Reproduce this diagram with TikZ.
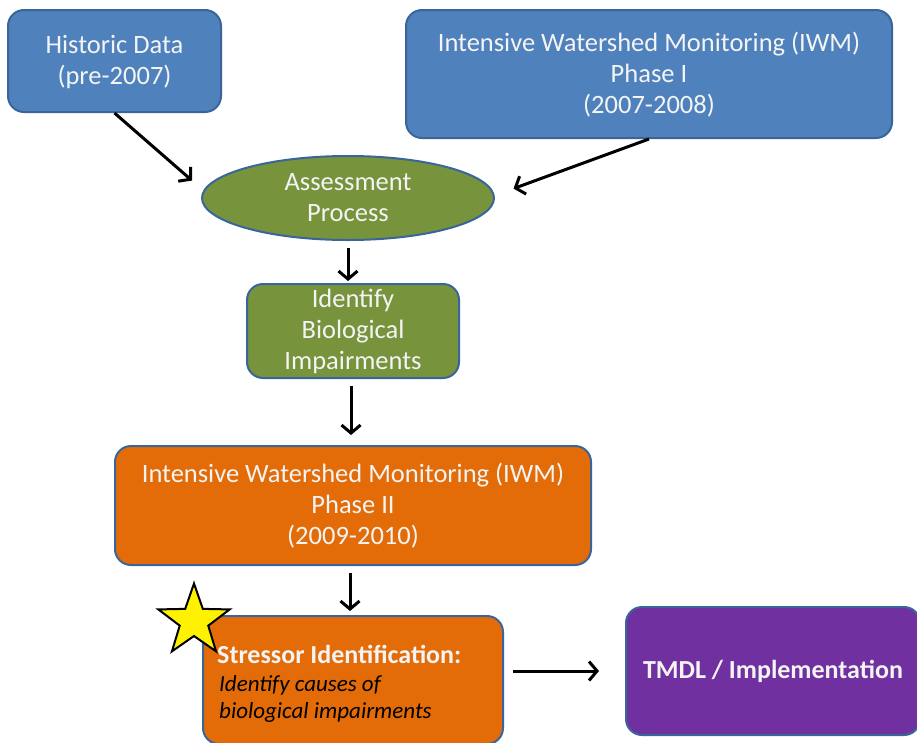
\documentclass[tikz,border=0pt]{standalone}
\usepackage{fontspec}
\setmainfont{Carlito}
\usetikzlibrary{shapes.geometric,arrows.meta}
\definecolor{bfill}{HTML}{4F81BD}
\definecolor{bline}{HTML}{3A659A}
\definecolor{gfill}{HTML}{77933C}
\definecolor{ofill}{HTML}{E36C09}
\definecolor{pfill}{HTML}{7030A0}
\definecolor{txtw}{HTML}{F4F4F4}
\tikzset{
  box/.style={draw=bline, line width=2pt, rounded corners=16pt, inner sep=0pt,
    align=center, text=txtw, font=\fontsize{26.5}{31}\selectfont},
  arr/.style={line width=3pt, -{Straight Barb[length=8pt,width=19pt]}},
  itline/.style={anchor=base west, inner sep=0pt, text=black, font=\fontsize{23}{27}\selectfont\itshape},
}
\begin{document}
\begin{tikzpicture}[x=1pt,y=-1pt]
\useasboundingbox (0,0) rectangle (917,742);
\clip (0,0) rectangle (917,742);
\fill[white] (0,0) rectangle (917,742);
\node[box, fill=bfill, minimum width=213pt, minimum height=102pt, text depth=3pt] (hist) at (114.5,61) {Historic Data\\(pre-2007)};
\node[box, fill=bfill, minimum width=486pt, minimum height=128pt, text depth=3pt] (iwma) at (649,74) {Intensive Watershed Monitoring (IWM)\\Phase I\\(2007-2008)};
\node[ellipse, draw=bline, line width=2pt, fill=gfill, minimum width=292pt, minimum height=84pt, inner sep=0pt, align=center, text=txtw, font=\fontsize{26.5}{31}\selectfont] (assess) at (348,198) {Assessment\\Process};
\node[box, fill=gfill, minimum width=212pt, minimum height=94pt] (ident) at (353,331) {Identify\\Biological\\Impairments};
\node[box, fill=ofill, minimum width=476pt, minimum height=119pt] (iwmb) at (353,505.5) {Intensive Watershed Monitoring (IWM)\\Phase II\\(2009-2010)};
\node[box, fill=ofill, minimum width=300pt, minimum height=128pt] (stress) at (353,680) {};
\node[anchor=base west, inner sep=0pt, text=txtw, font=\fontsize{26}{31}\selectfont\bfseries] (stress1) at (217,663) {Stressor Identification:};
\node[itline] (stress2) at (219,691) {Identify causes of};
\node[itline] (stress3) at (219,718) {biological impairments};
\node[box, fill=pfill, minimum width=294pt, minimum height=128pt, font=\fontsize{26}{31}\selectfont\bfseries] (tmdl) at (773,671) {TMDL / Implementation};
\node[star, star points=5, star point ratio=2.5, minimum size=75pt, inner sep=0pt, draw=black, line width=2pt, fill=yellow] (starmark) at (194,621) {};
\draw[arr, shorten >=15pt] (hist.south) -- (assess.177);
\draw[arr, shorten >=20pt] (iwma.south) -- (assess.1);
\draw[arr, shorten <=7pt, shorten >=2pt] (assess.south) -- (assess.south |- ident.north);
\draw[arr, shorten <=7pt, shorten >=10pt] ([xshift=-2pt]ident.south) -- ([xshift=-2pt]iwmb.north);
\draw[arr, shorten <=7pt, shorten >=4pt] ([xshift=-3pt]iwmb.south) -- ([xshift=-3pt]stress.north);
\draw[arr, shorten <=9pt, shorten >=26pt] (stress.east |- tmdl.west) -- (tmdl.west);
\end{tikzpicture}
\end{document}
